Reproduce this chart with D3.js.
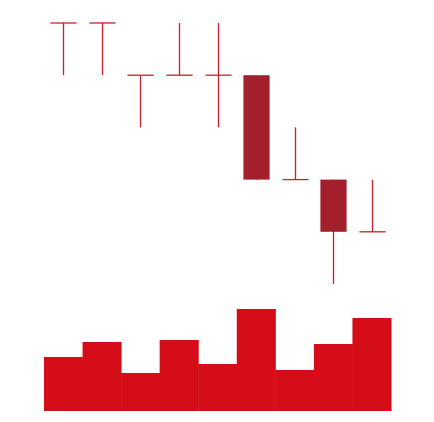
<!DOCTYPE html>
<html>
<head>
<meta charset="utf-8">
<script src="https://cdn.jsdelivr.net/npm/d3@7"></script>
<style>
  html, body { margin: 0; padding: 0; background: #ffffff; }
  svg { display: block; }
</style>
</head>
<body>
<svg id="chart" width="434" height="422"></svg>
<script>
const days = ["D1", "D2", "D3", "D4", "D5", "D6", "D7", "D8", "D9"];
const open  = [10, 10, 9, 9, 9, 9, 7, 7, 6];
const high  = [10, 10, 9, 10, 10, 9, 8, 7, 7];
const low   = [9, 9, 8, 9, 8, 7, 7, 5, 6];
const close = [10, 10, 9, 9, 9, 7, 7, 6, 6];
const volume = [54, 69, 38, 71, 47, 102, 41, 67, 93];

const svg = d3.select("#chart");

const x = d3.scaleBand().domain(days).range([44, 391]).padding(0);
const y = d3.scaleLinear().domain([5, 10]).range([284, 23]);
const yv = d3.scaleLinear().domain([0, 102]).range([411, 309]);

const wickColor = "#c8202c";
const bodyColor = "#a31f2b";
const volColor = "#d50d18";
const bodyW = x.bandwidth() * 0.68;

// volume bars
svg.append("g").selectAll("rect")
  .data(days)
  .join("rect")
  .attr("x", d => x(d))
  .attr("width", x.bandwidth() + 0.5)
  .attr("y", (d, i) => yv(volume[i]))
  .attr("height", (d, i) => yv(0) - yv(volume[i]))
  .attr("fill", volColor);

const g = svg.append("g");
days.forEach((d, i) => {
  const cx = Math.round(x(d) + x.bandwidth() / 2) + 0.5;
  // wick
  if (high[i] !== low[i]) {
    g.append("line")
      .attr("x1", cx).attr("x2", cx)
      .attr("y1", y(high[i])).attr("y2", y(low[i]))
      .attr("stroke", wickColor).attr("stroke-width", 1.3);
  }
  if (open[i] === close[i]) {
    g.append("line")
      .attr("x1", cx - bodyW / 2).attr("x2", cx + bodyW / 2)
      .attr("y1", y(open[i])).attr("y2", y(open[i]))
      .attr("stroke", wickColor).attr("stroke-width", 1.3);
  } else {
    const top = y(Math.max(open[i], close[i]));
    const bot = y(Math.min(open[i], close[i]));
    g.append("rect")
      .attr("x", cx - bodyW / 2)
      .attr("width", bodyW)
      .attr("y", top)
      .attr("height", bot - top)
      .attr("fill", bodyColor);
  }
});
</script>
</body>
</html>
